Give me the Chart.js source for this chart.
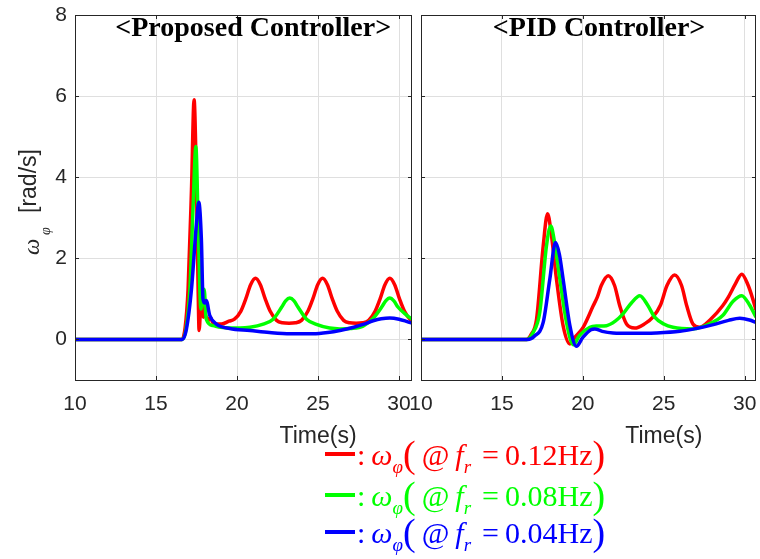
<!DOCTYPE html>
<html>
<head>
<meta charset="utf-8">
<script src="https://cdn.jsdelivr.net/npm/chart.js@4"></script>
<style>
  body { margin: 0; background: #fff; width: 760px; height: 559px; overflow: hidden; position: relative; }
  canvas { position: absolute; top: 0; }
  #leftChart { left: 0; }
  #rightChart { left: 396px; }
  .leg { position: absolute; left: 325px; font-family: "Liberation Serif", serif; font-size: 30px; line-height: 30px; white-space: nowrap; }
  .leg .dash { display: inline-block; width: 30px; height: 4px; vertical-align: 9px; margin-right: 2px; }
  .leg .i { font-style: italic; }
  .leg sub { font-size: 19px; font-style: italic; vertical-align: -8px; line-height: 0; }
  .leg .p { font-size: 38px; font-weight: 300; line-height: 0; vertical-align: -2px; }
  .leg .eq { margin: 0 6px 0 11px; }
</style>
</head>
<body>
<canvas id="leftChart" width="416" height="460"></canvas>
<canvas id="rightChart" width="364" height="460"></canvas>
<div id="legend"></div>
<script>
// Ejes
const xTicks = [10, 15, 20, 25, 30];
const yTicks = [0, 2, 4, 6, 8];
const freqLabels = ['0.12Hz', '0.08Hz', '0.04Hz'];
const panelTitles = ['<Proposed Controller>', '<PID Controller>'];

// Controlador propuesto
const propRedT = [10, 16.6, 16.8, 16.98, 17.19, 17.35, 17.5, 17.6, 17.66, 17.8, 17.92, 18.05, 18.2, 18.35, 18.5, 18.8, 19.04, 19.5, 19.84, 20.24, 20.54, 20.84, 21.14, 21.44, 21.74, 22.04, 22.44, 22.8, 23.21, 23.6, 23.98, 24.38, 24.68, 24.98, 25.28, 25.58, 25.88, 26.18, 26.58, 26.95, 27.35, 27.75, 28.13, 28.53, 28.83, 29.13, 29.43, 29.73, 30.03, 30.33, 30.73, 30.8];
const propRedV = [0, 0, 0.3, 1.24, 3.7, 5.91, 3.7, 1.24, 0.22, 1.1, 0.55, 0.6, 0.45, 0.55, 0.42, 0.38, 0.38, 0.45, 0.5, 0.7, 1.0, 1.35, 1.51, 1.35, 1.0, 0.7, 0.47, 0.41, 0.4, 0.41, 0.47, 0.7, 1.0, 1.35, 1.51, 1.35, 1.0, 0.7, 0.47, 0.41, 0.4, 0.41, 0.47, 0.7, 1.0, 1.35, 1.51, 1.35, 1.0, 0.7, 0.47, 0.45];
const propGrnT = [10, 16.62, 16.85, 17.09, 17.29, 17.46, 17.6, 17.77, 17.97, 18.1, 18.53, 19.0, 19.55, 20.2, 20.8, 21.62, 22.23, 22.76, 23.0, 23.26, 23.52, 23.76, 24.29, 24.9, 25.72, 26.35, 27.0, 27.78, 28.4, 28.93, 29.18, 29.43, 29.68, 29.93, 30.46, 30.8];
const propGrnV = [0, 0, 0.25, 1.24, 3.29, 4.76, 2.88, 0.75, 1.24, 0.5, 0.34, 0.3, 0.28, 0.28, 0.3, 0.38, 0.5, 0.8, 0.95, 1.02, 0.95, 0.8, 0.5, 0.37, 0.28, 0.26, 0.27, 0.33, 0.52, 0.8, 0.95, 1.02, 0.95, 0.8, 0.6, 0.5];
const propBluT = [10, 16.63, 16.88, 17.19, 17.5, 17.64, 17.8, 17.9, 18.0, 18.1, 18.32, 18.73, 19.55, 20.8, 22.0, 23.3, 24.7, 25.6, 26.35, 27.2, 27.78, 28.4, 28.9, 29.43, 30.0, 30.5, 30.8];
const propBluV = [0, 0, 0.26, 1.24, 2.88, 3.38, 2.47, 1.0, 0.9, 0.96, 0.59, 0.38, 0.27, 0.22, 0.17, 0.14, 0.14, 0.17, 0.22, 0.3, 0.37, 0.46, 0.51, 0.53, 0.5, 0.44, 0.4];

// Controlador PID
const pidRedT = [10, 16.5, 16.8, 17.14, 17.55, 17.82, 18.05, 18.37, 18.78, 19.2, 19.5, 20.02, 20.64, 20.9, 21.14, 21.57, 21.96, 22.28, 22.7, 23.21, 23.8, 24.33, 24.8, 25.2, 25.67, 26.1, 26.42, 26.8, 27.2, 27.9, 28.64, 29.0, 29.4, 29.82, 30.22, 30.5, 30.7];
const pidRedV = [0, 0, 0.12, 0.5, 2.3, 3.1, 2.6, 1.49, 0.34, -0.11, 0.05, 0.3, 0.83, 1.05, 1.33, 1.57, 1.33, 0.83, 0.38, 0.28, 0.38, 0.55, 0.85, 1.33, 1.59, 1.33, 0.83, 0.38, 0.3, 0.5, 0.83, 1.05, 1.35, 1.61, 1.33, 1.0, 0.72];
const pidGrnT = [10, 16.55, 16.9, 17.34, 17.75, 18.02, 18.25, 18.58, 18.99, 19.41, 19.8, 20.43, 20.9, 21.46, 22.0, 22.48, 23.0, 23.52, 24.0, 24.44, 25.0, 25.57, 26.8, 27.8, 28.64, 29.3, 29.82, 30.3, 30.7];
const pidGrnV = [0, 0, 0.15, 0.67, 2.3, 2.8, 2.4, 1.49, 0.42, -0.13, 0.1, 0.3, 0.33, 0.34, 0.45, 0.63, 0.9, 1.08, 0.85, 0.55, 0.38, 0.3, 0.26, 0.38, 0.59, 0.95, 1.08, 0.85, 0.55];
const pidBluT = [10, 16.6, 17.0, 17.55, 17.96, 18.31, 18.55, 18.78, 19.2, 19.6, 20.0, 20.5, 20.74, 21.2, 21.86, 23.0, 24.53, 26.0, 27.0, 28.0, 29.0, 29.7, 30.3, 30.7];
const pidBluV = [0, 0, 0.08, 0.42, 1.49, 2.39, 2.1, 1.49, 0.34, -0.17, 0.05, 0.24, 0.26, 0.2, 0.16, 0.15, 0.16, 0.2, 0.27, 0.36, 0.47, 0.52, 0.48, 0.42];

const lineColors = ['#ff0000', '#00ff00', '#0000ff'];
const axisColor = '#262626';

function toPoints(ts, vs) {
    return ts.map((t, i) => ({ x: t, y: vs[i] }));
}

function makeDatasets(series) {
    // el azul queda encima, como en la figura original
    return series.map((s, i) => ({
        data: toPoints(s[0], s[1]),
        borderColor: lineColors[i],
        borderWidth: 3.5,
        pointRadius: 0,
        cubicInterpolationMode: 'monotone',
        order: 3 - i
    }));
}

// Marco, marcas internas, títulos y etiquetas de ejes
const decorPlugin = {
    id: 'decor',
    afterDraw(chart, args, opts) {
        const ctx = chart.ctx;
        const a = chart.chartArea;
        const sx = chart.scales.x, sy = chart.scales.y;
        ctx.save();
        ctx.strokeStyle = axisColor;
        ctx.lineWidth = 1;
        ctx.beginPath();
        xTicks.forEach(v => {
            const px = Math.round(sx.getPixelForValue(v)) + 0.5;
            ctx.moveTo(px, a.bottom); ctx.lineTo(px, a.bottom - 4);
            ctx.moveTo(px, a.top); ctx.lineTo(px, a.top + 4);
        });
        yTicks.forEach(v => {
            const py = Math.round(sy.getPixelForValue(v)) + 0.5;
            ctx.moveTo(a.left, py); ctx.lineTo(a.left + 4, py);
            ctx.moveTo(a.right, py); ctx.lineTo(a.right - 4, py);
        });
        ctx.stroke();
        ctx.strokeRect(Math.round(a.left) + 0.5, Math.round(a.top) + 0.5,
            Math.round(a.right - a.left) - 1, Math.round(a.bottom - a.top));

        // título del panel
        ctx.fillStyle = '#000';
        ctx.font = 'bold 28px "Liberation Serif"';
        ctx.textAlign = 'center';
        ctx.textBaseline = 'alphabetic';
        ctx.fillText(opts.title, sx.getPixelForValue(21), 36);

        // etiqueta eje x
        ctx.fillStyle = axisColor;
        ctx.font = '23px "Liberation Sans"';
        ctx.textBaseline = 'middle';
        ctx.fillText('Time(s)', sx.getPixelForValue(25), 437);

        // etiqueta eje y (solo panel izquierdo)
        if (opts.yTitle) {
            ctx.translate(0, 201);
            ctx.rotate(-Math.PI / 2);
            ctx.textAlign = 'left';
            ctx.textBaseline = 'alphabetic';
            ctx.font = 'italic 23px "Liberation Serif"';
            ctx.fillText('ω', -54, 39);
            ctx.font = 'italic 14px "Liberation Serif"';
            ctx.fillText('φ', -34, 50);
            ctx.font = '23px "Liberation Sans"';
            ctx.fillText('[rad/s]', -12, 36);
        }
        ctx.restore();
    }
};

function createPanel(canvasId, series, xMax, yAxisWidth, showYLabels, title) {
    const ctx = document.getElementById(canvasId).getContext('2d');
    return new Chart(ctx, {
        type: 'line',
        data: { datasets: makeDatasets(series) },
        options: {
            responsive: false,
            animation: false,
            events: [],
            layout: { padding: { top: 15, right: 4, left: 0, bottom: 0 } },
            plugins: {
                legend: { display: false },
                tooltip: { enabled: false },
                decor: { title: title, yTitle: showYLabels }
            },
            scales: {
                x: {
                    type: 'linear',
                    min: 10,
                    max: xMax,
                    afterBuildTicks: s => { s.ticks = xTicks.map(v => ({ value: v })); },
                    afterFit: s => { s.height = 80; s.paddingLeft = 0; s.paddingRight = 0; },
                    grid: { color: '#dfdfdf', drawTicks: false },
                    border: { display: false },
                    ticks: {
                        color: axisColor,
                        font: { family: 'Liberation Sans', size: 21 },
                        padding: 12,
                        maxRotation: 0,
                        autoSkip: false
                    }
                },
                y: {
                    min: -1,
                    max: 8,
                    afterBuildTicks: s => { s.ticks = yTicks.map(v => ({ value: v })); },
                    afterFit: s => { s.width = yAxisWidth; s.paddingTop = 0; s.paddingBottom = 0; },
                    grid: { color: '#dfdfdf', drawTicks: false },
                    border: { display: false },
                    ticks: {
                        display: showYLabels,
                        color: axisColor,
                        font: { family: 'Liberation Sans', size: 21 },
                        padding: 8
                    }
                }
            }
        },
        plugins: [decorPlugin]
    });
}

createPanel('leftChart', [[propRedT, propRedV], [propGrnT, propGrnV], [propBluT, propBluV]], 30.8, 75, true, panelTitles[0]);
createPanel('rightChart', [[pidRedT, pidRedV], [pidGrnT, pidGrnV], [pidBluT, pidBluV]], 30.7, 25, false, panelTitles[1]);

// Leyenda con notación matemática
const legendTops = [440, 481, 518];
const legendEl = document.getElementById('legend');
freqLabels.forEach((f, i) => {
    const row = document.createElement('div');
    row.className = 'leg';
    row.style.top = legendTops[i] + 'px';
    row.style.color = lineColors[i];
    row.innerHTML = '<span class="dash" style="background:' + lineColors[i] + '"></span>:&thinsp;' +
        '<span class="i">ω</span><sub>φ</sub><span class="p">(</span>&thinsp;@&thinsp;<span class="i">f</span><sub>r</sub><span class="eq">=</span>' + f +
        '<span class="p">)</span>';
    legendEl.appendChild(row);
});
</script>
</body>
</html>
